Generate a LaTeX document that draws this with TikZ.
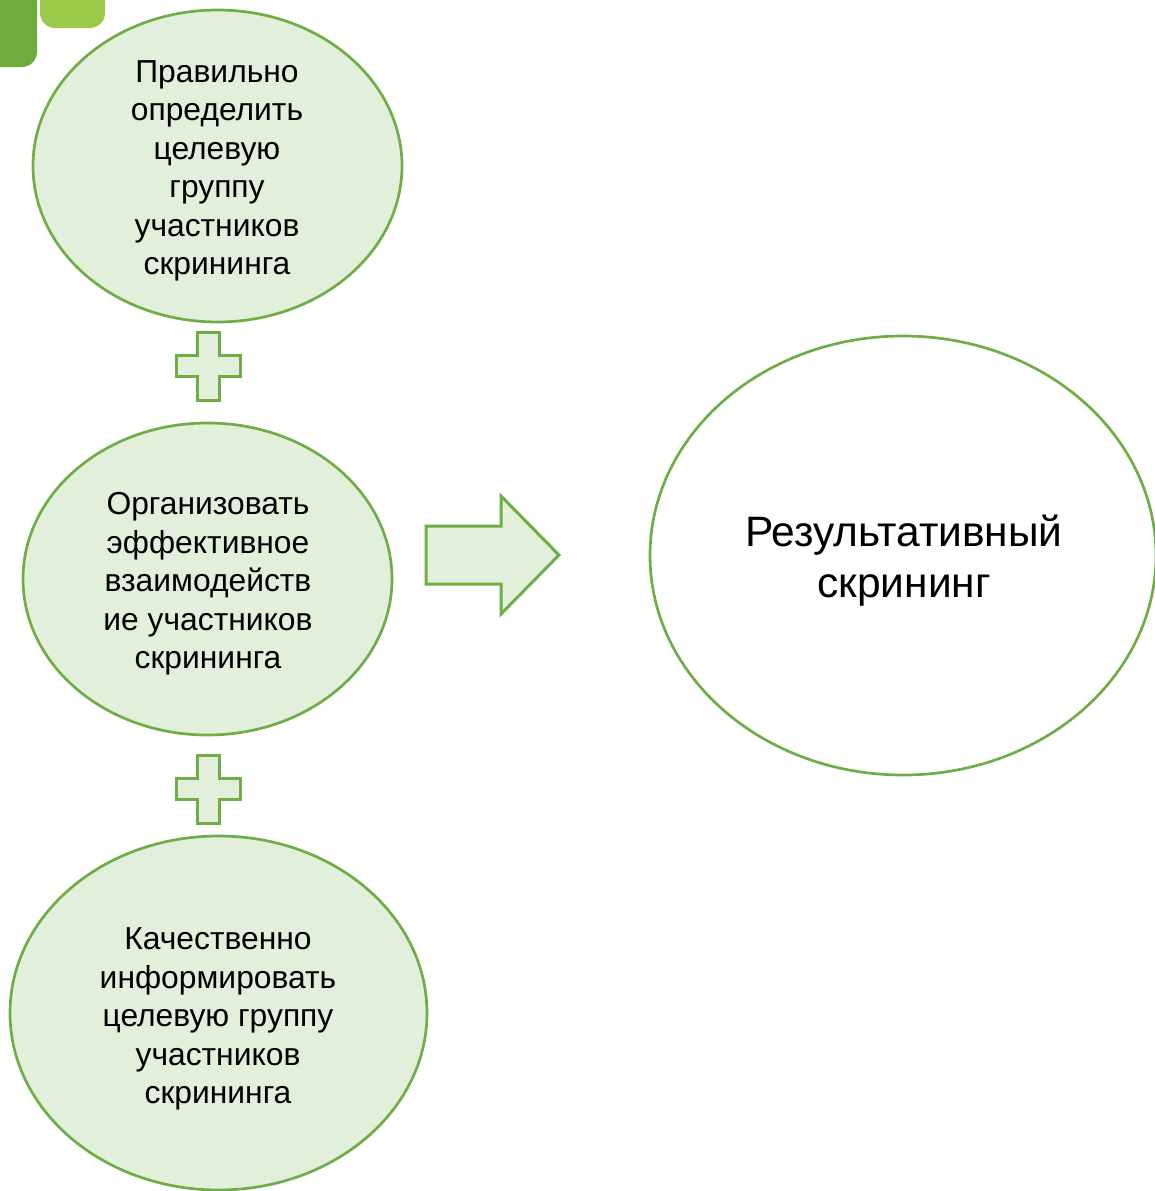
\documentclass[tikz,border=0pt]{standalone}
\usepackage{fontspec}
\setmainfont{Liberation Sans}
\usetikzlibrary{shapes.geometric}
\definecolor{gstroke}{HTML}{70AD47}
\definecolor{gfill}{HTML}{E2EFDA}
\definecolor{dgreen}{HTML}{6FAC3E}
\definecolor{lgreen}{HTML}{9DC94A}
\tikzset{
  bubble/.style={ellipse, draw=gstroke, fill=gfill, line width=2.7pt, inner sep=0pt},
  whitebubble/.style={ellipse, draw=gstroke, fill=white, line width=2.7pt, inner sep=0pt},
  smalltext/.style={align=center, font=\fontsize{31.8}{38.5}\selectfont, inner sep=0pt},
  bigtext/.style={align=center, font=\fontsize{42.5}{51}\selectfont, inner sep=0pt},
  shapeline/.style={draw=gstroke, fill=gfill, line width=3pt, line join=miter},
}
\begin{document}
\begin{tikzpicture}[x=1pt,y=-1pt]
\useasboundingbox (0,0) rectangle (1155,1191);
% corner decoration
\fill[dgreen] (0,-20) -- (37,-20) -- (37,52) arc[start angle=0,end angle=90,radius=15] -- (0,67) -- cycle;
\fill[lgreen] (40,-20) -- (105,-20) -- (105,13) arc[start angle=0,end angle=90,radius=15] -- (55,28) arc[start angle=90,end angle=180,radius=15] -- cycle;
% ellipses
\node[bubble, minimum width=369pt, minimum height=312pt] (e1) at (217.5,166) {};
\node[bubble, minimum width=369pt, minimum height=312pt] (e2) at (207.5,579) {};
\node[bubble, minimum width=417pt, minimum height=354pt] (e3) at (218.5,1013) {};
\node[whitebubble, minimum width=506pt, minimum height=439pt] (e4) at (903,555.5) {};
% texts
\node[smalltext] (t1) at (217,171) {Правильно\\определить\\целевую\\группу\\участников\\скрининга};
\node[smalltext] (t2) at (208,584) {Организовать\\эффективное\\взаимодейств\\ие участников\\скрининга};
\node[smalltext] (t3) at (218,1019) {Качественно\\информировать\\целевую группу\\участников\\скрининга};
\node[bigtext] (t4) at (904,561) {Результативный\\скрининг};
% plus signs
\foreach \cy in {366,789} {
  \draw[shapeline] (197,\cy-34) -- (219,\cy-34) -- (219,\cy-11) -- (240,\cy-11) -- (240,\cy+10) -- (219,\cy+10) -- (219,\cy+34) -- (197,\cy+34) -- (197,\cy+10) -- (176,\cy+10) -- (176,\cy-11) -- (197,\cy-11) -- cycle;
}
% arrow
\draw[shapeline] (426,526) -- (501,526) -- (501,496) -- (559,555) -- (501,614) -- (501,584) -- (426,584) -- cycle;
\end{tikzpicture}
\end{document}
